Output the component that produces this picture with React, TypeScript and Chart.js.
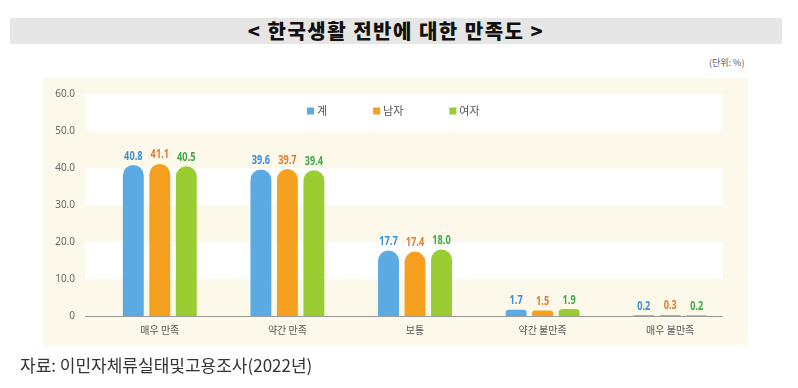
import React, { useEffect, useRef } from 'react';
import { Chart, registerables } from 'chart.js';

Chart.register(...registerables);

const categories = ['매우 만족', '약간 만족', '보통', '약간 불만족', '매우 불만족'];
const seriesLabels = ['계', '남자', '여자'];
const totalValues = [40.8, 39.6, 17.7, 1.7, 0.2];
const maleValues = [41.1, 39.7, 17.4, 1.5, 0.3];
const femaleValues = [40.5, 39.4, 18.0, 1.9, 0.2];
const yTicks = [0, 10, 20, 30, 40, 50, 60];
const whiteBands = [[50, 60], [30, 40], [10, 20]];
const barColors = ['#5BAAE3', '#F5A11F', '#9ACD32'];
const valueColors = ['#3C8ED4', '#E57B2E', '#3DAA48'];

const KR = "'Noto Sans CJK KR', 'Noto Sans', sans-serif";
const NUM = "'Noto Sans', 'Roboto', sans-serif";

const bandsPlugin = {
  id: 'bands',
  beforeDatasetsDraw(chart: any) {
    const { ctx, chartArea } = chart;
    const y = chart.scales.y;
    const left = chartArea.left - 11;
    const right = chartArea.right - 11;
    ctx.save();
    ctx.fillStyle = '#FFFFFF';
    whiteBands.forEach(([a, b]) => {
      const top = y.getPixelForValue(b);
      const bot = y.getPixelForValue(a);
      ctx.fillRect(left, top, right - left, bot - top);
    });
    const y0 = Math.round(y.getPixelForValue(0)) + 0.5;
    ctx.strokeStyle = '#9A9A9A';
    ctx.lineWidth = 1;
    ctx.beginPath();
    ctx.moveTo(left, y0);
    ctx.lineTo(right, y0);
    ctx.stroke();
    ctx.restore();
  },
};

const valuePlugin = {
  id: 'values',
  afterDatasetsDraw(chart: any) {
    const { ctx } = chart;
    chart.data.datasets.forEach((ds: any, di: number) => {
      const meta = chart.getDatasetMeta(di);
      meta.data.forEach((el: any, i: number) => {
        ctx.save();
        ctx.font = `bold 11.5px ${NUM}`;
        ctx.textAlign = 'center';
        ctx.textBaseline = 'bottom';
        ctx.fillStyle = valueColors[di];
        ctx.translate(el.x, el.y - 3);
        ctx.scale(0.8, 1);
        ctx.fillText(Number(ds.data[i]).toFixed(1), 0, 0);
        ctx.restore();
      });
    });
  },
};

const legendPlugin = {
  id: 'customLegend',
  afterDraw(chart: any) {
    const { ctx, chartArea } = chart;
    ctx.save();
    ctx.font = `11px ${KR}`;
    ctx.textBaseline = 'middle';
    ctx.textAlign = 'left';
    let x = chartArea.left + 211;
    const yc = chartArea.top + 17;
    chart.data.datasets.forEach((ds: any) => {
      ctx.fillStyle = ds.backgroundColor;
      ctx.fillRect(x, yc - 3.5, 7, 7);
      ctx.fillStyle = '#555555';
      ctx.fillText(ds.label, x + 10, yc);
      x += 10 + ctx.measureText(ds.label).width + 46;
    });
    ctx.restore();
  },
};

export default function App() {
  const canvasRef = useRef<HTMLCanvasElement | null>(null);

  useEffect(() => {
    if (!canvasRef.current) return;
    const seriesValues = [totalValues, maleValues, femaleValues];
    const chart = new Chart(canvasRef.current, {
      type: 'bar',
      data: {
        labels: categories,
        datasets: seriesLabels.map((label, i) => ({
          label,
          data: seriesValues[i],
          backgroundColor: barColors[i],
          borderWidth: 0,
          borderSkipped: 'bottom',
          borderRadius: { topLeft: 12, topRight: 12, bottomLeft: 0, bottomRight: 0 },
          categoryPercentage: 0.623,
          barPercentage: 0.79,
        })),
      },
      options: {
        responsive: false,
        animation: false,
        devicePixelRatio: 1,
        layout: { padding: { top: 94, right: 64, bottom: 0, left: 0 } },
        plugins: {
          legend: { display: false },
          tooltip: { enabled: false },
          title: { display: false },
        },
        scales: {
          x: {
            grid: { display: false, drawTicks: false },
            border: { display: false },
            ticks: { color: '#555555', font: { family: KR, size: 10 }, padding: 8 },
            afterFit: (s: any) => { s.height = 72; },
          },
          y: {
            min: 0,
            max: 60,
            grid: { display: false, drawTicks: false },
            border: { display: false },
            afterBuildTicks: (s: any) => { s.ticks = yTicks.map((v) => ({ value: v })); },
            ticks: {
              color: '#666666',
              font: { family: NUM, size: 10 },
              padding: 21,
              callback: (v: any) => (Number(v) === 0 ? '0' : Number(v).toFixed(1)),
            },
            afterFit: (s: any) => { s.width = 96; },
          },
        },
      },
      plugins: [bandsPlugin, valuePlugin, legendPlugin],
    } as any);
    return () => chart.destroy();
  }, []);

  return (
    <div style={{ position: 'fixed', left: 0, top: 0, width: 798, height: 388, background: '#FFFFFF', overflow: 'hidden' }}>
      <div
        style={{
          position: 'absolute', left: 10, top: 18, width: 772, height: 26, background: '#E6E6E6',
          fontFamily: KR, fontWeight: 900, fontSize: 20, lineHeight: '26px', letterSpacing: '1.5px',
          textAlign: 'center', color: '#111111', whiteSpace: 'nowrap',
        }}
      >
        {'< 한국생활 전반에 대한 만족도 >'}
      </div>
      <div style={{ position: 'absolute', left: 709, top: 56, fontFamily: KR, fontSize: 9, lineHeight: '14px', color: '#555555', whiteSpace: 'nowrap' }}>
        (단위: %)
      </div>
      <div style={{ position: 'absolute', left: 43, top: 78, width: 705, height: 267, background: '#FCF9EA' }} />
      <canvas ref={canvasRef} width={798} height={388} style={{ position: 'absolute', left: 0, top: 0, width: 798, height: 388 }} />
      <div style={{ position: 'absolute', left: 20, top: 353, fontFamily: KR, fontSize: 17, lineHeight: '24px', color: '#333333', whiteSpace: 'nowrap' }}>
        자료: 이민자체류실태및고용조사(2022년)
      </div>
    </div>
  );
}
